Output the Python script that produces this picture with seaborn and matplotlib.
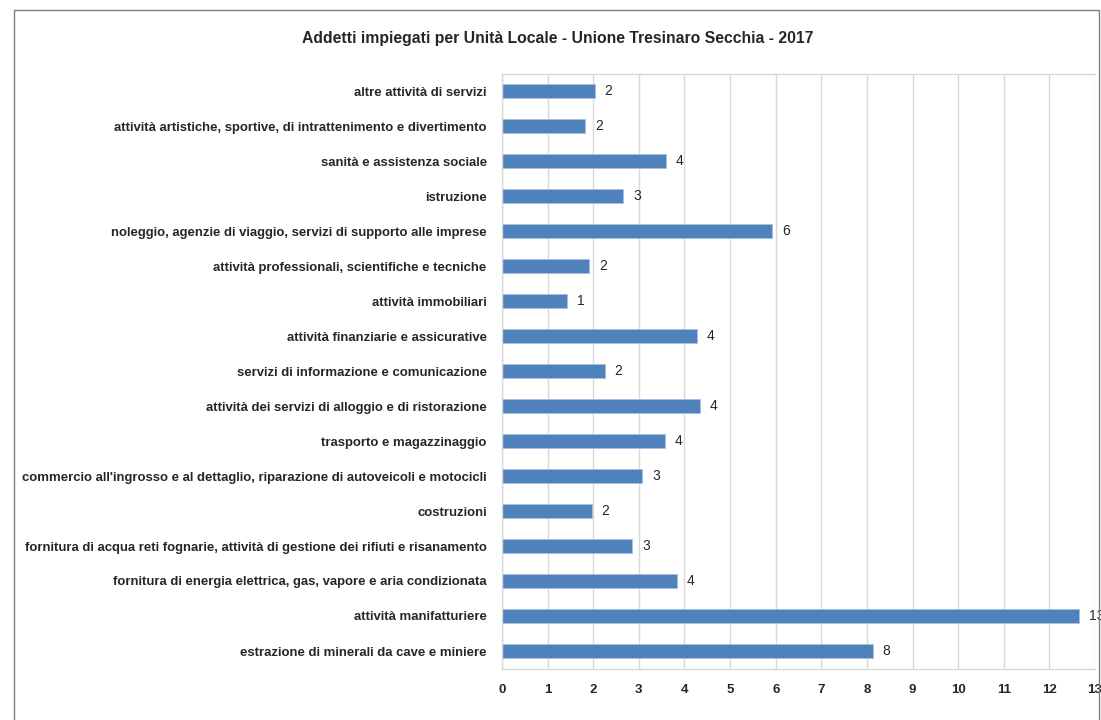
#!/usr/bin/env python3

import matplotlib
matplotlib.use("Agg")
import matplotlib.pyplot as plt
import pandas as pd
import seaborn as sns

# Sectors, top to bottom as in the chart
sectors = [
    "altre attività di servizi",
    "attività artistiche, sportive, di intrattenimento e divertimento",
    "sanità e assistenza sociale",
    "istruzione",
    "noleggio, agenzie di viaggio, servizi di supporto alle imprese",
    "attività professionali, scientifiche e tecniche",
    "attività immobiliari",
    "attività finanziarie e assicurative",
    "servizi di informazione e comunicazione",
    "attività dei servizi di alloggio e di ristorazione",
    "trasporto e magazzinaggio",
    "commercio all'ingrosso e al dettaglio, riparazione di autoveicoli e motocicli",
    "costruzioni",
    "fornitura di acqua reti fognarie, attività di gestione dei rifiuti e risanamento",
    "fornitura di energia elettrica, gas, vapore e aria condizionata",
    "attività manifatturiere",
    "estrazione di minerali da cave e miniere",
]
addetti = [2.03, 1.83, 3.60, 2.66, 5.93, 1.91, 1.43, 4.28, 2.25, 4.33,
           3.58, 3.08, 1.97, 2.86, 3.83, 12.66, 8.13]
x_ticks = list(range(0, 14))

df = pd.DataFrame({"settore": sectors, "addetti": addetti})

sns.set_theme(style="white")
plt.rcParams["font.family"] = ["Liberation Sans", "DejaVu Sans"]

W, H = 1101, 720
fig = plt.figure(figsize=(W / 100, H / 100), dpi=100)

# outer chart frame
frame = plt.Rectangle((14 / W, -0.05), (1099 - 14) / W, 1.05 - 10 / H,
                      transform=fig.transFigure, fill=False,
                      edgecolor="#7f7f7f", linewidth=1.0)
fig.patches.append(frame)

ax = fig.add_axes([502 / W, 1 - 668.5 / H, (1095 - 502) / W, (668.5 - 73.5) / H])

sns.barplot(
    df,
    ax=ax,
    x="addetti",
    y="settore",
    order=sectors,
    color="#4F81BD",
    width=0.4,
    saturation=1,
    edgecolor="#A7C0DE",
    linewidth=0.6,
)

ax.bar_label(ax.containers[0], labels=[f"{round(v)}" for v in addetti],
             padding=7, fontsize=10, color="#262626", clip_on=False)

ax.set_xlim(0, 13)
ax.set_xticks(x_ticks)
ax.set_xticklabels([str(t) for t in x_ticks], fontsize=9.5, fontweight="bold")
ax.tick_params(axis="x", length=0, pad=11)
ax.tick_params(axis="y", length=0, pad=11)
for lab in ax.get_yticklabels():
    lab.set_fontweight("bold")
    lab.set_fontsize(9.45)
ax.xaxis.grid(True, color="#d9d9d9", linewidth=1)
ax.set_axisbelow(True)
ax.set_xlabel("")
ax.set_ylabel("")
for side in ["top", "right", "bottom", "left"]:
    ax.spines[side].set_color("#d9d9d9")
    ax.spines[side].set_linewidth(1)
ax.spines["right"].set_visible(False)

fig.text(0.507, 1 - 38 / H, "Addetti impiegati per Unità Locale - Unione Tresinaro Secchia - 2017",
         ha="center", va="center", fontsize=11.3, fontweight="bold")

fig.savefig("out.png", dpi=100)
